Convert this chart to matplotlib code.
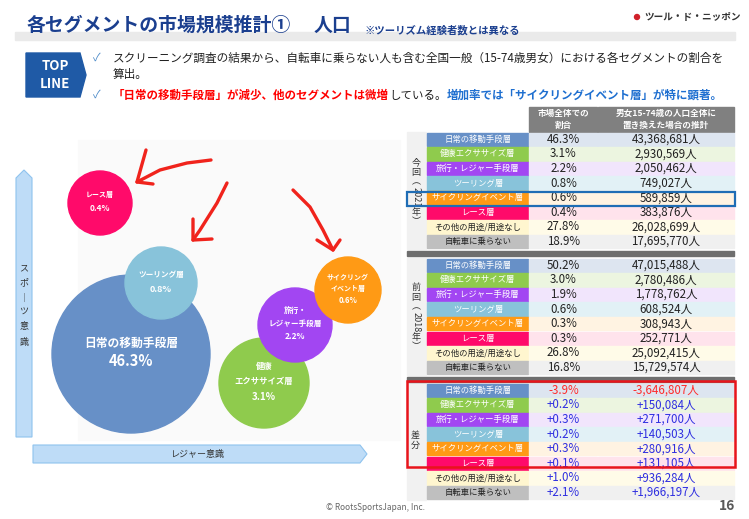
import matplotlib
matplotlib.use("Agg")
import matplotlib.pyplot as plt
from matplotlib.patches import Circle, Polygon, Rectangle

plt.rcParams["font.family"] = ["Noto Sans CJK JP", "DejaVu Sans"]

# --- data -----------------------------------------------------------------
segments = ["日常の移動手段層", "健康エクササイズ層", "旅行・レジャー手段層", "ツーリング層",
            "サイクリングイベント層", "レース層", "その他の用途/用途なし", "自転車に乗らない"]
share_2021 = [46.3, 3.1, 2.2, 0.8, 0.6, 0.4, 27.8, 18.9]
pop_2021 = [43368681, 2930569, 2050462, 749027, 589859, 383876, 26028699, 17695770]
share_2018 = [50.2, 3.0, 1.9, 0.6, 0.3, 0.3, 26.8, 16.8]
pop_2018 = [47015488, 2780486, 1778762, 608524, 308943, 252771, 25092415, 15729574]
share_diff = [-3.9, 0.2, 0.3, 0.2, 0.3, 0.1, 1.0, 2.1]
pop_diff = [-3646807, 150084, 271700, 140503, 280916, 131105, 936284, 1966197]

bubble_labels = ["日常の移動手段層", "健康\nエクササイズ層", "旅行・\nレジャー手段層",
                 "ツーリング層", "サイクリング\nイベント層", "レース層"]
bubble_values = share_2021[:6]

# --- styles / layout ------------------------------------------------------
label_colors = ["#6790C7", "#8FCB4D", "#A246F2", "#88C3DA", "#FF9A15", "#FF0A6A", "#FFF6CF", "#BFBFBF"]
cell_colors = ["#DDE5F0", "#ECF5E0", "#F1E5FC", "#E2F1F6", "#FFF3E2", "#FFE3EC", "#FFFBE8", "#F0F0F0"]
label_text = ["white"] * 6 + ["#222222", "#222222"]
# bubble order: main, green, purple, touring, orange, race -> (cx, cy, r, label fs, value fs, line gap)
bubble_layout = [(131, 354, 79, 8.5, 10.5, 18), (264, 383, 45, 6.0, 7.0, 15),
                 (295, 325, 37, 5.5, 6.0, 13), (161, 283, 36, 5.5, 6.5, 15),
                 (348, 290, 33, 5.0, 5.5, 12), (100, 203, 32, 5.0, 6.0, 14)]
draw_order = [0, 3, 1, 2, 4, 5]

NAVY = "#1B3F8F"
fig = plt.figure(figsize=(7.49, 5.19), dpi=100)
ax = fig.add_axes([0, 0, 1, 1])
ax.set_xlim(0, 749)
ax.set_ylim(519, 0)
ax.axis("off")
renderer = fig.canvas.get_renderer()


def fitted_text(x, y, s, width, fs=10, **kw):
    """Place text at (x, y) with the font size that makes it `width` pixels wide."""
    t = ax.text(x, y, s, fontsize=fs, **kw)
    w = t.get_window_extent(renderer=renderer).width
    t.set_fontsize(fs * width / w)
    return t


# header
ax.add_patch(Rectangle((15, 32), 720, 8, color="#EAEAEA", zorder=1))
title = fitted_text(27, 25, "各セグメントの市場規模推計①", 264, fontweight="bold",
                    color=NAVY, va="center", zorder=3)
ax.text(314, 25, "人口", fontsize=title.get_fontsize(), fontweight="bold", color=NAVY,
        va="center", zorder=3)
fitted_text(364, 30, "※ツーリズム経験者数とは異なる", 155, fontweight="bold",
            color=NAVY, va="center", zorder=3)
ax.add_patch(Circle((637, 17), 2.5, color="#D0202A"))
fitted_text(644, 17, "ツール・ド・ニッポン", 96, fontweight="bold", color="#333333", va="center")

# TOP LINE box
ax.add_patch(Polygon([(26, 53), (80, 53), (86, 75), (80, 97), (26, 97)], color="#1F5AA6"))
ax.text(55, 66, "TOP", fontsize=9.5, fontweight="bold", color="white", ha="center", va="center")
ax.text(55, 84, "LINE", fontsize=9.5, fontweight="bold", color="white", ha="center", va="center")

for y in (58, 95):
    ax.text(97, y, "✓", fontsize=8, color="#4A89C8", ha="center", va="center")
line1 = fitted_text(113, 58, "スクリーニング調査の結果から、自転車に乗らない人も含む全国一般（15-74歳男女）"
                    "における各セグメントの割合を", 613, color="#222222", va="center")
ax.text(113, 74, "算出。", fontsize=line1.get_fontsize(), color="#222222", va="center")

parts = [("「日常の移動手段層」が減少、他のセグメントは微増", "#FF0000", "bold"),
         ("している。", "#222222", "normal"),
         ("増加率では「サイクリングイベント層」が特に顕著。", "#1E6FD0", "bold")]
texts = []
x = 113
for part, col, wt in parts:
    t = ax.text(x, 95, part, fontsize=10, color=col, fontweight=wt, va="center")
    texts.append(t)
    x += t.get_window_extent(renderer=renderer).width
scale = (722 - 113) / (x - 113)
x = 113
for t in texts:
    t.set_fontsize(10 * scale)
    t.set_x(x)
    x += t.get_window_extent(renderer=renderer).width

# bubble chart
ax.add_patch(Rectangle((78, 140), 322, 300, color="#FAFAFA", zorder=0))
ax.add_patch(Polygon([(16, 437), (16, 178), (24, 170), (32, 178), (32, 437)],
                     facecolor="#BEDCF7", edgecolor="#8FC3EE", lw=0.8))
for ch, y in zip(["ス", "ポ", "｜", "ツ", "意", "識"], [268, 283, 298, 312, 327, 342]):
    ax.text(24, y, ch, fontsize=6.5, color="#333333", ha="center", va="center")
ax.add_patch(Polygon([(33, 445), (360, 445), (367, 454), (360, 463), (33, 463)],
                     facecolor="#BEDCF7", edgecolor="#8FC3EE", lw=0.8))
ax.text(198, 454, "レジャー意識", fontsize=6.5, color="#333333", ha="center", va="center")

for i in draw_order:
    cx, cy, r, fs_l, fs_v, gap = bubble_layout[i]
    ax.add_patch(Circle((cx, cy), r, color=label_colors[i], zorder=4))
    lines = bubble_labels[i].split("\n")
    n = len(lines) + 1
    y0 = cy - (n - 1) * gap / 2 - gap * 0.1
    for k, line in enumerate(lines):
        ax.text(cx, y0 + k * gap, line, fontsize=fs_l, fontweight="bold", color="white",
                ha="center", va="center", zorder=5)
    ax.text(cx, y0 + len(lines) * gap, f"{bubble_values[i]:.1f}%", fontsize=fs_v,
            fontweight="bold", color="white", ha="center", va="center", zorder=5)

# hand-drawn arrows
RED = "#F0231C"
arrows = [
    ([(211, 160), (187, 163), (160, 170), (137, 182)], [(146, 150), (137, 182), (153, 184)]),
    ([(227, 183), (217, 203), (200, 230), (193, 240)], [(193, 219), (193, 240), (212, 239)]),
    ([(293, 190), (310, 207), (323, 230), (333, 250)], [(317, 240), (333, 250), (340, 240)]),
]
for shaft, head in arrows:
    for pts in (shaft, head):
        ax.plot([p[0] for p in pts], [p[1] for p in pts], color=RED, lw=2.4,
                solid_capstyle="round", solid_joinstyle="round", zorder=6)

# table
X_SIDE, X_LAB, X_C2, X_C3, X_END = 407, 427, 529, 598, 734
ROW_H = 14.6
ax.add_patch(Rectangle((X_C2, 107), X_C3 - X_C2 - 1, 25, color="#808080"))
ax.add_patch(Rectangle((X_C3, 107), X_END - X_C3, 25, color="#808080"))
ax.text((X_C2 + X_C3) / 2, 113, "市場全体での", fontsize=6.2, fontweight="bold", color="white", ha="center", va="center")
ax.text((X_C2 + X_C3) / 2, 125, "割合", fontsize=6.2, fontweight="bold", color="white", ha="center", va="center")
ax.text((X_C3 + X_END) / 2, 113, "男女15-74歳の人口全体に", fontsize=6.2, fontweight="bold", color="white", ha="center", va="center")
ax.text((X_C3 + X_END) / 2, 125, "置き換えた場合の推計", fontsize=6.2, fontweight="bold", color="white", ha="center", va="center")

DIFF_NEG, DIFF_POS = "#FF2A2A", "#2F2FE0"
sections = [
    (132, [f"{v:.1f}%" for v in share_2021], [f"{v:,}人" for v in pop_2021], None),
    (258, [f"{v:.1f}%" for v in share_2018], [f"{v:,}人" for v in pop_2018], None),
    (383, [f"{v:+.1f}%" for v in share_diff], [f"{v:+,}人" for v in pop_diff], share_diff),
]
for top, col2, col3, signs in sections:
    ax.add_patch(Rectangle((X_SIDE, top), X_LAB - X_SIDE - 1, ROW_H * 8, color="#F1F1F1"))
    for i, seg in enumerate(segments):
        y = top + i * ROW_H
        ax.add_patch(Rectangle((X_LAB, y + 0.6), X_C2 - X_LAB - 1.5, ROW_H - 1.2, color=label_colors[i]))
        ax.add_patch(Rectangle((X_C2, y + 0.6), X_C3 - X_C2 - 1.5, ROW_H - 1.2, color=cell_colors[i]))
        ax.add_patch(Rectangle((X_C3, y + 0.6), X_END - X_C3, ROW_H - 1.2, color=cell_colors[i]))
        cy = y + ROW_H / 2
        ax.text((X_LAB + X_C2) / 2, cy, seg, fontsize=6, color=label_text[i], ha="center", va="center")
        if signs is None:
            tc = "#222222"
        else:
            tc = DIFF_NEG if signs[i] < 0 else DIFF_POS
        ax.text((X_C2 + X_C3) / 2, cy, col2[i], fontsize=8.3, color=tc, ha="center", va="center")
        ax.text((X_C3 + X_END) / 2, cy, col3[i], fontsize=8.3, color=tc, ha="center", va="center")

for y in (250.5, 376.5):
    ax.add_patch(Rectangle((X_SIDE, y), X_END - X_SIDE, 5, color="#6E6E6E"))


def vertical_label(cx, top, pieces, fs=6.5):
    em = fs * 100 / 72
    y = top
    for txt, rotated in pieces:
        if rotated:
            t = ax.text(cx, y, txt, fontsize=fs, color="#333333", rotation=-90,
                        ha="center", va="top", rotation_mode="default")
            y += t.get_window_extent(renderer=renderer).height + 1
        else:
            ax.text(cx, y + em / 2, txt, fontsize=fs, color="#333333", ha="center", va="center")
            y += em + 0.5


vertical_label(416, 158, [("今", False), ("回", False), ("︵", False), ("2021", True), ("年", False), ("︶", False)])
vertical_label(416, 283, [("前", False), ("回", False), ("︵", False), ("2018", True), ("年", False), ("︶", False)])
vertical_label(415, 431, [("差", False), ("分", False)])

ax.add_patch(Rectangle((407, 192), 328, 14, fill=False, edgecolor="#1F6DB5", lw=1.6, zorder=7))
ax.add_patch(Rectangle((407, 381), 328, 86, fill=False, edgecolor="#E8141B", lw=1.8, zorder=7))

# footer
ax.text(375, 507, "© RootsSportsJapan, Inc.", fontsize=6, color="#666666", ha="center", va="center")
ax.text(735, 506, "16", fontsize=10, fontweight="bold", color="#595959", ha="right", va="center")

fig.savefig("out.png", dpi=100)
